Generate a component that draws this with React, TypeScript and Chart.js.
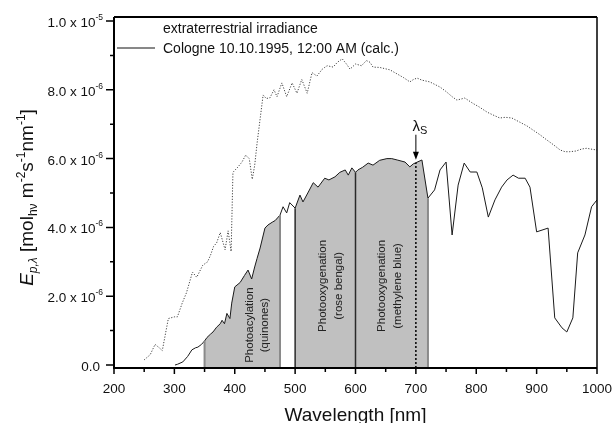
import { useEffect, useRef } from 'react';
import { Chart, registerables } from 'chart.js';

Chart.register(...registerables);

// Wavelengths (nm) and photon irradiance (x 1e-6 mol m^-2 s^-1 nm^-1)
const extraLambda = [250, 260, 268, 275, 280, 290, 300, 305, 313, 320, 330, 337, 347, 355, 360, 365, 370, 376, 384, 389, 394, 397, 405, 412, 418, 424, 429, 433, 437, 447, 452, 458, 465, 470, 478, 486, 495, 503, 511, 520, 528, 536, 545, 553, 563, 570, 578, 585, 591, 600, 610, 618, 624, 629, 640, 657, 670, 680, 690, 696, 702, 710, 723, 740, 750, 760, 768, 781, 795, 805, 818, 830, 839, 848, 859, 872, 884, 894, 905, 917, 928, 939, 947, 955, 965, 975, 983, 992, 1000];
const extraValues = [0.15, 0.3, 0.6, 0.5, 0.42, 1.35, 1.4, 1.4, 1.8, 2.1, 2.7, 2.55, 2.9, 3.0, 3.2, 3.45, 3.55, 3.85, 3.35, 3.9, 3.3, 5.6, 5.75, 5.9, 6.1, 6.0, 5.4, 5.8, 6.45, 7.85, 7.75, 7.76, 8.0, 7.8, 8.2, 7.8, 8.2, 7.9, 8.3, 7.9, 8.5, 8.4, 8.6, 8.7, 8.66, 8.8, 8.9, 8.75, 8.6, 8.75, 8.7, 8.85, 8.8, 8.66, 8.65, 8.58, 8.45, 8.35, 8.23, 8.3, 8.34, 8.28, 8.23, 8.08, 7.95, 7.8, 7.7, 7.76, 7.6, 7.5, 7.35, 7.25, 7.18, 7.2, 7.18, 7.06, 6.95, 6.83, 6.7, 6.54, 6.4, 6.25, 6.2, 6.2, 6.22, 6.28, 6.3, 6.27, 6.25];

const calcLambda = [301, 305, 314, 322, 329, 335, 339, 345, 350, 354, 360, 364, 370, 376, 379, 383, 387, 392, 395, 400, 409, 416, 422, 428, 433, 437, 442, 450, 455, 462, 467, 472, 475, 480, 486, 491, 500, 508, 513, 521, 530, 538, 549, 556, 566, 574, 583, 588, 594, 600, 604, 612, 621, 629, 640, 652, 660, 669, 682, 690, 696, 700, 710, 720, 731, 740, 750, 760, 770, 780, 790, 801, 810, 820, 831, 842, 851, 861, 870, 881, 889, 900, 919, 930, 942, 950, 960, 968, 980, 991, 1000];
const calcValues = [0.0, 0.02, 0.09, 0.25, 0.44, 0.5, 0.52, 0.6, 0.7, 0.8, 0.9, 0.96, 1.1, 1.2, 1.3, 1.2, 1.5, 1.35, 1.8, 2.27, 2.4, 2.6, 2.76, 2.5, 2.85, 3.1, 3.4, 3.98, 4.07, 4.15, 4.2, 4.3, 4.36, 4.6, 4.42, 4.72, 4.56, 4.94, 4.74, 5.0, 5.3, 5.17, 5.43, 5.38, 5.47, 5.6, 5.67, 5.52, 5.73, 5.6, 5.67, 5.75, 5.87, 5.81, 5.95, 6.0, 6.0, 5.96, 5.9, 5.76, 5.85, 5.88, 5.96, 4.85, 5.09, 5.67, 5.9, 3.78, 5.23, 5.87, 5.61, 5.61, 5.15, 4.3, 4.8, 5.17, 5.38, 5.52, 5.43, 5.43, 5.17, 3.87, 3.98, 1.37, 1.08, 0.96, 1.37, 3.26, 3.78, 4.6, 4.8];

const shadedRanges = [[350, 475], [500, 600], [600, 720]];
const boundaryLambdas = [350, 475, 500, 600, 720];
const lambdaS = 700;

const xMajorTicks = [200, 300, 400, 500, 600, 700, 800, 900, 1000];
const xMinorTicks = [250, 350, 450, 550, 650, 750, 850, 950];
const yMajorTicks = [0, 2, 4, 6, 8, 10];
const yMinorTicks = [1, 3, 5, 7, 9];

const legendLabels = ['extraterrestrial irradiance', 'Cologne 10.10.1995, 12:00 AM (calc.)'];
const processLabels = [
  { lines: ['Photoacylation', '(quinones)'], lambda: 437, value: 1.16 },
  { lines: ['Photooxygenation', '(rose bengal)'], lambda: 559, value: 2.3 },
  { lines: ['Photooxygenation', '(methylene blue)'], lambda: 657, value: 2.3 },
];
const xTitle = 'Wavelength [nm]';

const U = 1e-6;
const FONT = '"Liberation Sans", Arial, sans-serif';
const font = (size: number, italic = false) => `${italic ? 'italic ' : ''}${size}px ${FONT}`;

type Seg = { t: string; s: number; it?: boolean; dy?: number };

function segsWidth(ctx: CanvasRenderingContext2D, segs: Seg[]) {
  let w = 0;
  for (const g of segs) {
    ctx.font = font(g.s, g.it);
    w += ctx.measureText(g.t).width;
  }
  return w;
}

function drawSegs(ctx: CanvasRenderingContext2D, segs: Seg[], x: number, y: number, align: 'left' | 'center' | 'right') {
  const w = segsWidth(ctx, segs);
  let cx = align === 'left' ? x : align === 'center' ? x - w / 2 : x - w;
  ctx.textAlign = 'left';
  ctx.textBaseline = 'alphabetic';
  for (const g of segs) {
    ctx.font = font(g.s, g.it);
    ctx.fillText(g.t, cx, y + (g.dy || 0));
    cx += ctx.measureText(g.t).width;
  }
}

function calcAt(l: number) {
  for (let i = 0; i < calcLambda.length - 1; i++) {
    const a = calcLambda[i], b = calcLambda[i + 1];
    if (l >= a && l <= b) {
      const t = (l - a) / (b - a);
      return calcValues[i] + t * (calcValues[i + 1] - calcValues[i]);
    }
  }
  return 0;
}

const decorPlugin = {
  id: 'decor',
  afterDatasetsDraw(chart: any) {
    const ctx: CanvasRenderingContext2D = chart.ctx;
    const xs = chart.scales.x;
    const ys = chart.scales.y;
    const { left, right, top, bottom } = chart.chartArea;
    ctx.save();

    // boundary lines of shaded regions
    boundaryLambdas.forEach((l, i) => {
      const px = xs.getPixelForValue(l);
      const py = ys.getPixelForValue(calcAt(l) * U);
      ctx.beginPath();
      ctx.strokeStyle = i === 2 || i === 3 ? '#2a2a2a' : '#8a8a8a';
      ctx.lineWidth = i === 2 || i === 3 ? 1.5 : 2;
      ctx.moveTo(px, bottom);
      ctx.lineTo(px, py);
      ctx.stroke();
    });

    // lambda_S dotted line
    const sx = xs.getPixelForValue(lambdaS);
    const sy = ys.getPixelForValue(calcAt(lambdaS) * U);
    ctx.beginPath();
    ctx.setLineDash([2, 2]);
    ctx.strokeStyle = '#000';
    ctx.lineWidth = 1.5;
    ctx.moveTo(sx, bottom);
    ctx.lineTo(sx, sy);
    ctx.stroke();
    ctx.setLineDash([]);

    // arrow
    const tipY = sy - 3;
    ctx.beginPath();
    ctx.lineWidth = 1;
    ctx.moveTo(sx, tipY - 25);
    ctx.lineTo(sx, tipY - 6);
    ctx.stroke();
    ctx.beginPath();
    ctx.fillStyle = '#000';
    ctx.moveTo(sx, tipY);
    ctx.lineTo(sx - 3, tipY - 8);
    ctx.lineTo(sx + 3, tipY - 8);
    ctx.closePath();
    ctx.fill();
    ctx.fillStyle = '#111';
    drawSegs(ctx, [{ t: 'λ', s: 15 }, { t: 'S', s: 11, dy: 3 }], sx + 4, tipY - 29, 'center');

    // process labels
    ctx.fillStyle = '#222';
    ctx.font = font(11.5);
    ctx.textAlign = 'center';
    ctx.textBaseline = 'middle';
    processLabels.forEach((p) => {
      const cx = xs.getPixelForValue(p.lambda);
      const cy = ys.getPixelForValue(p.value * U);
      ctx.save();
      ctx.translate(cx, cy);
      ctx.rotate(-Math.PI / 2);
      p.lines.forEach((ln, i) => {
        ctx.fillText(ln, 0, (i - (p.lines.length - 1) / 2) * 15.5);
      });
      ctx.restore();
    });

    // frame
    ctx.strokeStyle = '#000';
    ctx.lineWidth = 2;
    ctx.beginPath();
    ctx.moveTo(left, top);
    ctx.lineTo(left, bottom);
    ctx.lineTo(right, bottom);
    ctx.moveTo(left, top);
    ctx.lineTo(right, top);
    ctx.stroke();
    ctx.lineWidth = 1.5;
    ctx.beginPath();
    ctx.moveTo(right, top);
    ctx.lineTo(right, bottom);
    ctx.stroke();

    // ticks
    ctx.lineWidth = 1.5;
    ctx.beginPath();
    xMajorTicks.forEach((v) => {
      const px = xs.getPixelForValue(v);
      ctx.moveTo(px, bottom);
      ctx.lineTo(px, bottom + 6);
    });
    xMinorTicks.forEach((v) => {
      const px = xs.getPixelForValue(v);
      ctx.moveTo(px, bottom);
      ctx.lineTo(px, bottom + 4);
    });
    yMajorTicks.forEach((v) => {
      const py = ys.getPixelForValue(v * U);
      ctx.moveTo(left, py);
      ctx.lineTo(left - 8, py);
    });
    yMinorTicks.forEach((v) => {
      const py = ys.getPixelForValue(v * U);
      ctx.moveTo(left, py);
      ctx.lineTo(left - 4, py);
    });
    ctx.stroke();

    // x tick labels
    ctx.fillStyle = '#111';
    ctx.font = font(13.5);
    ctx.textAlign = 'center';
    ctx.textBaseline = 'alphabetic';
    xMajorTicks.forEach((v) => {
      ctx.fillText(String(v), xs.getPixelForValue(v), 393);
    });

    // y tick labels
    yMajorTicks.forEach((v) => {
      const py = ys.getPixelForValue(v * U);
      let segs: Seg[];
      if (v === 0) segs = [{ t: '0.0', s: 13.5 }];
      else {
        const val = v * U;
        const e = Math.floor(Math.log10(val) + 1e-9);
        const m = val / Math.pow(10, e);
        segs = [{ t: `${m.toFixed(1)} x 10`, s: 13.5 }, { t: `-${-e}`, s: 8.5, dy: -7 }];
      }
      drawSegs(ctx, segs, v === 0 ? 100 : 103, py + 6, 'right');
    });

    // x title
    ctx.font = font(19);
    ctx.textAlign = 'center';
    ctx.fillText(xTitle, (left + right) / 2, 421);

    // y title
    ctx.save();
    ctx.translate(33, (top + bottom) / 2 + 5);
    ctx.rotate(-Math.PI / 2);
    drawSegs(ctx, [
      { t: 'E', s: 19, it: true },
      { t: 'p,λ', s: 12, it: true, dy: 4 },
      { t: ' [mol', s: 19 },
      { t: 'hν', s: 12, dy: 4 },
      { t: ' m', s: 19 },
      { t: '-2', s: 12, dy: -8 },
      { t: 's', s: 19 },
      { t: '-1', s: 12, dy: -8 },
      { t: 'nm', s: 19 },
      { t: '-1', s: 12, dy: -8 },
      { t: ']', s: 19 },
    ], 0, 0, 'center');
    ctx.restore();

    // legend
    ctx.font = font(14);
    ctx.textAlign = 'left';
    ctx.fillStyle = '#111';
    ctx.fillText(legendLabels[0], 163, 33);
    ctx.fillText(legendLabels[1], 163, 53);
    ctx.beginPath();
    ctx.strokeStyle = '#111';
    ctx.lineWidth = 1;
    ctx.moveTo(117, 48);
    ctx.lineTo(155, 48);
    ctx.stroke();

    ctx.restore();
  },
};

export default function App() {
  const ref = useRef<HTMLCanvasElement>(null);
  useEffect(() => {
    if (!ref.current) return;
    const extra = extraLambda.map((x, i) => ({ x, y: extraValues[i] * U }));
    const calc = calcLambda.map((x, i) => ({ x, y: calcValues[i] * U }));
    const fills = shadedRanges.map(([a, b]) => ({
      data: calc.filter((p) => p.x >= a && p.x <= b),
      borderWidth: 0,
      backgroundColor: '#c0c0c0',
      fill: 'start',
      pointRadius: 0,
      order: 5,
    }));
    const chart = new Chart(ref.current, {
      type: 'line',
      data: {
        datasets: [
          ...fills,
          {
            label: legendLabels[0],
            data: extra,
            borderColor: '#444',
            borderWidth: 1,
            borderDash: [1.2, 1.6],
            pointRadius: 0,
            fill: false,
            order: 1,
          },
          {
            label: legendLabels[1],
            data: calc,
            borderColor: '#1a1a1a',
            borderWidth: 1,
            pointRadius: 0,
            fill: false,
            order: 0,
          },
        ] as any,
      },
      options: {
        animation: false,
        responsive: false,
        events: [],
        layout: { padding: { left: 114, right: 17, top: 17, bottom: 55 } },
        plugins: { legend: { display: false }, tooltip: { enabled: false } },
        scales: {
          x: {
            type: 'linear',
            min: 200,
            max: 1000,
            ticks: { display: false },
            grid: { display: false, drawTicks: false },
            border: { display: false },
          },
          y: {
            type: 'linear',
            min: -0.087e-6,
            max: 10.116e-6,
            ticks: { display: false },
            grid: { display: false, drawTicks: false },
            border: { display: false },
          },
        },
      },
      plugins: [decorPlugin],
    });
    return () => chart.destroy();
  }, []);
  return (
    <canvas
      ref={ref}
      width={614}
      height={423}
      style={{ position: 'fixed', left: 0, top: 0, width: 614, height: 423 }}
    />
  );
}
